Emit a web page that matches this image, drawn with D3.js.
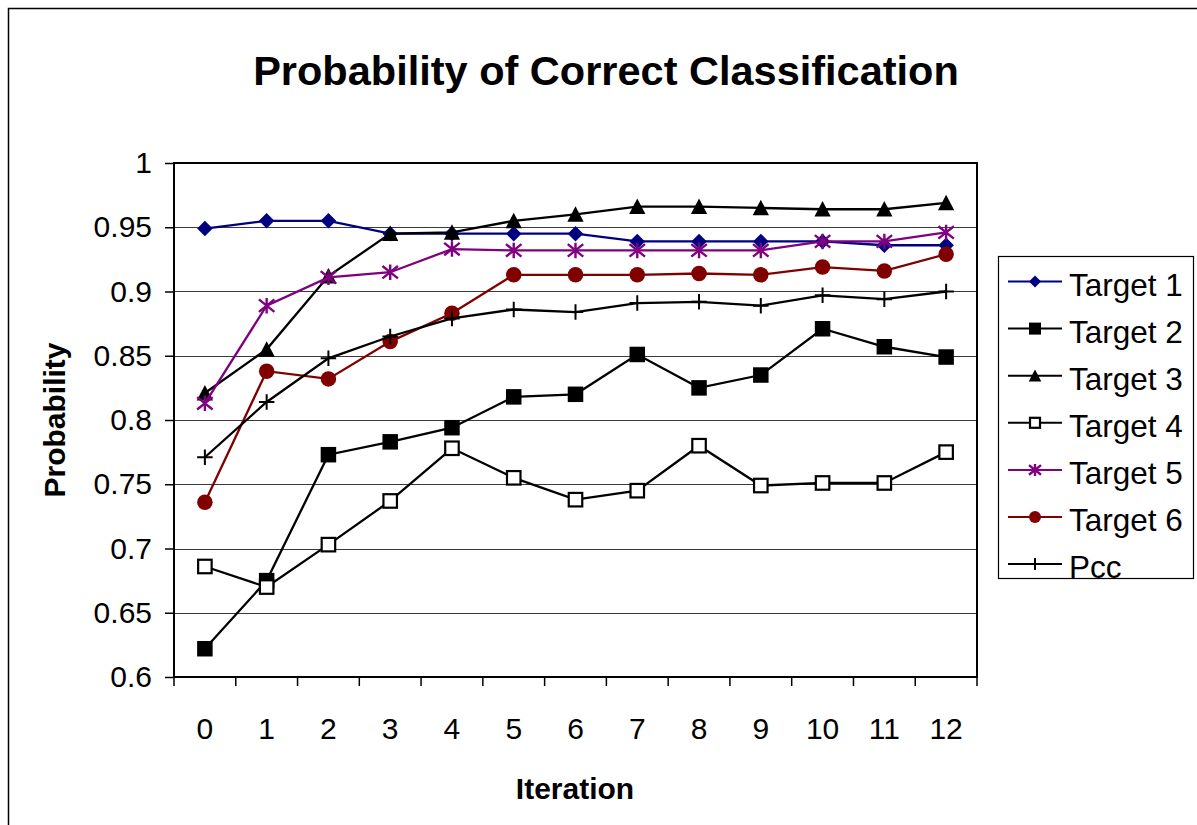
<!DOCTYPE html>
<html>
<head>
<meta charset="utf-8">
<script src="https://cdn.jsdelivr.net/npm/d3@7/dist/d3.min.js"></script>
<style>
  html, body { margin: 0; padding: 0; background: #fff; }
  svg { display: block; font-family: "Liberation Sans", Arial, sans-serif; }
</style>
</head>
<body>
<svg id="chart" width="1197" height="825"></svg>
<script>
const iterations = ["0","1","2","3","4","5","6","7","8","9","10","11","12"];
const yTicks = [0.6, 0.65, 0.7, 0.75, 0.8, 0.85, 0.9, 0.95, 1];
const yTickLabels = ["0.6","0.65","0.7","0.75","0.8","0.85","0.9","0.95","1"];
const seriesNames = ["Target 1","Target 2","Target 3","Target 4","Target 5","Target 6","Pcc"];

const target1 = [0.949, 0.955, 0.955, 0.945, 0.945, 0.945, 0.945, 0.939, 0.939, 0.939, 0.939, 0.936, 0.936];
const target2 = [0.622, 0.675, 0.773, 0.783, 0.794, 0.818, 0.820, 0.851, 0.825, 0.835, 0.871, 0.857, 0.849];
const target3 = [0.821, 0.855, 0.912, 0.945, 0.946, 0.955, 0.960, 0.966, 0.966, 0.965, 0.964, 0.964, 0.969];
const target4 = [0.686, 0.670, 0.703, 0.737, 0.778, 0.755, 0.738, 0.745, 0.780, 0.749, 0.751, 0.751, 0.775];
const target5 = [0.813, 0.889, 0.911, 0.915, 0.933, 0.932, 0.932, 0.932, 0.932, 0.932, 0.939, 0.939, 0.946];
const target6 = [0.736, 0.838, 0.832, 0.861, 0.883, 0.913, 0.913, 0.913, 0.914, 0.913, 0.919, 0.916, 0.929];
const pcc     = [0.771, 0.814, 0.848, 0.865, 0.879, 0.886, 0.884, 0.891, 0.892, 0.889, 0.897, 0.894, 0.900];

const seriesValues = [target1, target2, target3, target4, target5, target6, pcc];
const seriesColors = ["#000080", "#000000", "#000000", "#000000", "#800080", "#800000", "#000000"];
const seriesMarkers = ["diamond", "square", "triangle", "openSquare", "asterisk", "circle", "plus"];

const svg = d3.select("#chart");

// outer chart border
svg.append("path")
  .attr("d", "M8.5,830 L8.5,8.5 L1200,8.5")
  .attr("fill", "none").attr("stroke", "#000").attr("stroke-width", 1.5);

const plotLeft = 174, plotRight = 977, plotTop = 163, plotBottom = 677;
const x = d3.scaleBand().domain(iterations).range([plotLeft, plotRight]).padding(0);
const y = d3.scaleLinear().domain([0.6, 1]).range([plotBottom, plotTop]);
const cx = d => x(d) + x.bandwidth() / 2;

// gridlines
svg.append("g").selectAll("line").data(yTicks.filter(v => v > 0.6 && v < 1)).join("line")
  .attr("x1", plotLeft).attr("x2", plotRight)
  .attr("y1", d => Math.round(y(d)) + 0.5).attr("y2", d => Math.round(y(d)) + 0.5)
  .attr("stroke", "#3a3a3a").attr("stroke-width", 1);

// plot frame
svg.append("rect")
  .attr("x", plotLeft).attr("y", plotTop).attr("width", plotRight - plotLeft).attr("height", plotBottom - plotTop)
  .attr("fill", "none").attr("stroke", "#000").attr("stroke-width", 2);

// y axis
const yAxis = d3.axisLeft(y).tickValues(yTicks)
  .tickFormat((d, i) => yTickLabels[i]).tickSize(9).tickPadding(13);
const yg = svg.append("g").attr("transform", `translate(${plotLeft},0)`).call(yAxis);
yg.select(".domain").remove();
yg.selectAll("line").attr("stroke", "#000").attr("stroke-width", 1.5);
yg.selectAll("text").attr("font-size", 30).attr("fill", "#000")
  .attr("font-family", "'Liberation Sans', Arial, sans-serif");

// x axis: tick marks at category boundaries, labels at centres
const boundaries = iterations.map(d => x(d)).concat([x(iterations[iterations.length - 1]) + x.bandwidth()]);
svg.append("g").selectAll("line").data(boundaries).join("line")
  .attr("x1", d => d).attr("x2", d => d)
  .attr("y1", plotBottom).attr("y2", plotBottom + 9)
  .attr("stroke", "#000").attr("stroke-width", 1.5);
svg.append("g").selectAll("text").data(iterations).join("text")
  .attr("x", d => cx(d)).attr("y", 739)
  .attr("text-anchor", "middle").attr("font-size", 30).attr("fill", "#000")
  .text(d => d);

// titles
svg.append("text").attr("x", 606).attr("y", 85).attr("text-anchor", "middle")
  .attr("font-size", 41.5).attr("font-weight", "bold").text("Probability of Correct Classification");
svg.append("text").attr("x", 575).attr("y", 799).attr("text-anchor", "middle")
  .attr("font-size", 30).attr("font-weight", "bold").text("Iteration");
svg.append("text").attr("transform", "translate(65,420) rotate(-90)").attr("text-anchor", "middle")
  .attr("font-size", 30).attr("font-weight", "bold").text("Probability");

// marker drawing
function drawMarker(g, type, px, py, s, color) {
  const h = s / 2;
  if (type === "diamond") {
    g.append("path").attr("d", `M${px},${py - h} L${px + h},${py} L${px},${py + h} L${px - h},${py} Z`).attr("fill", color);
  } else if (type === "square") {
    g.append("rect").attr("x", px - h).attr("y", py - h).attr("width", s).attr("height", s).attr("fill", color);
  } else if (type === "openSquare") {
    const hh = h - 1;
    g.append("rect").attr("x", px - hh).attr("y", py - hh).attr("width", 2 * hh).attr("height", 2 * hh)
      .attr("fill", "#fff").attr("stroke", color).attr("stroke-width", 2.2);
  } else if (type === "triangle") {
    g.append("path").attr("d", `M${px},${py - h * 1.05} L${px + h * 1.05},${py + h * 0.95} L${px - h * 1.05},${py + h * 0.95} Z`).attr("fill", color);
  } else if (type === "circle") {
    g.append("circle").attr("cx", px).attr("cy", py).attr("r", h).attr("fill", color);
  } else if (type === "asterisk") {
    const d = h * 1.0, dv = h * 0.8;
    g.append("path").attr("d",
      `M${px},${py - h} L${px},${py + h} M${px - d},${py - dv} L${px + d},${py + dv} M${px - d},${py + dv} L${px + d},${py - dv}`)
      .attr("stroke", color).attr("stroke-width", 2.4).attr("fill", "none");
  } else if (type === "plus") {
    g.append("path").attr("d", `M${px},${py - h} L${px},${py + h} M${px - h},${py} L${px + h},${py}`)
      .attr("stroke", color).attr("stroke-width", 2).attr("fill", "none");
  }
}

// series
const line = d3.line().x((d, i) => cx(iterations[i])).y(d => y(d));
seriesValues.forEach((vals, si) => {
  const g = svg.append("g");
  g.append("path").datum(vals).attr("d", line)
    .attr("fill", "none").attr("stroke", seriesColors[si]).attr("stroke-width", 2.3);
  vals.forEach((v, i) => drawMarker(g, seriesMarkers[si], cx(iterations[i]), y(v), 15.5, seriesColors[si]));
});

// legend
const lg = svg.append("g");
lg.append("rect").attr("x", 998.5).attr("y", 256.5).attr("width", 195).attr("height", 322)
  .attr("fill", "#fff").attr("stroke", "#000").attr("stroke-width", 1.2);
seriesNames.forEach((name, i) => {
  const ly = 281.5 + i * 47.1;
  lg.append("line").attr("x1", 1008).attr("x2", 1062).attr("y1", ly).attr("y2", ly)
    .attr("stroke", seriesColors[i]).attr("stroke-width", 2);
  drawMarker(lg, seriesMarkers[i], 1035, ly, 12, seriesColors[i]);
  lg.append("text").attr("x", 1069).attr("y", ly + 14).attr("font-size", 31.5).attr("fill", "#000").text(name);
});
</script>
</body>
</html>
